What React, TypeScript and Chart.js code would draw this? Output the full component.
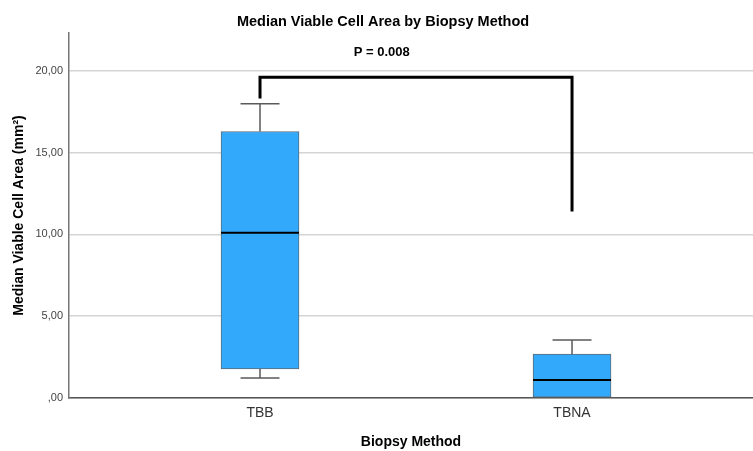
import React, { useEffect, useRef } from "react";
import { Chart, registerables } from "chart.js";

Chart.register(...registerables);

const categories = ["TBB", "TBNA"];
const categoryPositions = [1, 2];
const whiskerLow = [1.22, 0];
const q1 = [1.77, 0];
const median = [10.1, 1.1];
const q3 = [16.28, 2.68];
const whiskerHigh = [17.98, 3.54];

const bracketX = [1, 1, 2, 2];
const bracketY = [18.3, 19.6, 19.6, 11.4];
const pLabel = "P = 0.008";
const pLabelX = 1.39;
const pLabelY = 21.1;

const yTicks = [0, 5, 10, 15, 20];

const FONT = "'Liberation Sans', Arial, sans-serif";

const boxPlugin = {
  id: "boxExtras",
  afterDatasetsDraw(chart: any) {
    const ctx = chart.ctx;
    const xs = chart.scales.x;
    const ys = chart.scales.y;
    const meta = chart.getDatasetMeta(0);
    ctx.save();
    categoryPositions.forEach((pos, i) => {
      const cx = xs.getPixelForValue(pos);
      const bar = meta.data[i];
      const half = bar ? bar.width / 2 : 39;
      const capHalf = half / 2;
      ctx.strokeStyle = "#5a5a5a";
      ctx.lineWidth = 1.5;
      if (whiskerHigh[i] > q3[i]) {
        const yTop = ys.getPixelForValue(whiskerHigh[i]);
        const yQ3 = ys.getPixelForValue(q3[i]);
        ctx.beginPath();
        ctx.moveTo(cx, yQ3);
        ctx.lineTo(cx, yTop);
        ctx.moveTo(cx - capHalf, yTop);
        ctx.lineTo(cx + capHalf, yTop);
        ctx.stroke();
      }
      if (whiskerLow[i] < q1[i]) {
        const yBot = ys.getPixelForValue(whiskerLow[i]);
        const yQ1 = ys.getPixelForValue(q1[i]);
        ctx.beginPath();
        ctx.moveTo(cx, yQ1);
        ctx.lineTo(cx, yBot);
        ctx.moveTo(cx - capHalf, yBot);
        ctx.lineTo(cx + capHalf, yBot);
        ctx.stroke();
      }
      const yMed = ys.getPixelForValue(median[i]);
      ctx.strokeStyle = "#000";
      ctx.lineWidth = 2;
      ctx.beginPath();
      ctx.moveTo(cx - half, yMed);
      ctx.lineTo(cx + half, yMed);
      ctx.stroke();
    });
    ctx.fillStyle = "#000";
    ctx.font = `bold 13px ${FONT}`;
    ctx.textAlign = "center";
    ctx.textBaseline = "middle";
    ctx.fillText(pLabel, xs.getPixelForValue(pLabelX), ys.getPixelForValue(pLabelY));
    ctx.restore();
  },
};

export default function App() {
  const canvasRef = useRef<HTMLCanvasElement | null>(null);

  useEffect(() => {
    if (!canvasRef.current) return;
    const chart = new Chart(canvasRef.current, {
      type: "bar",
      data: {
        datasets: [
          {
            type: "bar",
            data: categoryPositions.map((x, i) => ({ x, y: [q1[i], q3[i]] })) as any,
            backgroundColor: "#33a9fc",
            borderColor: "#5f6b75",
            borderWidth: 1,
            borderSkipped: false,
            barThickness: 78,
          } as any,
          {
            type: "line",
            data: bracketX.map((x, i) => ({ x, y: bracketY[i] })) as any,
            borderColor: "#000",
            borderWidth: 3,
            pointRadius: 0,
            fill: false,
            tension: 0,
            borderJoinStyle: "miter",
          } as any,
        ],
      },
      options: {
        animation: false,
        responsive: false,
        devicePixelRatio: 1,
        layout: { padding: { left: 0, right: -13, top: 0, bottom: 0 } },
        plugins: {
          legend: { display: false },
          tooltip: { enabled: false },
          title: {
            display: true,
            text: "Median Viable Cell Area by Biopsy Method",
            color: "#000",
            font: { family: FONT, size: 14.5, weight: "bold" },
            padding: { top: 13, bottom: 2.6 },
          },
        },
        scales: {
          x: {
            type: "linear",
            min: 0.3878,
            max: 2.58,
            offset: false,
            grid: { display: false, drawTicks: false },
            border: { display: true, color: "#555", width: 1.5 },
            afterBuildTicks: (scale: any) => {
              scale.ticks = categoryPositions.map((v) => ({ value: v }));
            },
            afterFit: (scale: any) => {
              scale.height = 53;
            },
            ticks: {
              autoSkip: false,
              maxRotation: 0,
              padding: 7,
              color: "#333",
              font: { family: FONT, size: 14 },
              callback: (v: any) => categories[categoryPositions.indexOf(Number(v))] ?? "",
            },
            title: {
              display: true,
              text: "Biopsy Method",
              color: "#000",
              font: { family: FONT, size: 14, weight: "bold" },
              padding: { top: 0, bottom: 0.6 },
            },
          },
          y: {
            type: "linear",
            min: 0,
            max: 22.3,
            grid: { color: "#d4d4d4", lineWidth: 1.5, drawTicks: false },
            border: { display: true, color: "#777", width: 1.5 },
            afterBuildTicks: (scale: any) => {
              scale.ticks = yTicks.map((v) => ({ value: v }));
            },
            afterFit: (scale: any) => {
              scale.width = 69;
            },
            ticks: {
              padding: 6,
              color: "#444",
              font: { family: FONT, size: 11 },
              callback: (v: any) => {
                const n = Number(v);
                return n === 0 ? ",00" : n.toFixed(2).replace(".", ",");
              },
            },
            title: {
              display: true,
              text: "Median Viable Cell Area (mm²)",
              color: "#000",
              font: { family: FONT, size: 14, weight: "bold" },
              padding: { top: 10.6, bottom: 0 },
            },
          },
        },
      } as any,
      plugins: [boxPlugin],
    });
    return () => chart.destroy();
  }, []);

  return (
    <div style={{ position: "absolute", left: 0, top: 0, width: 753, height: 451, background: "#fff" }}>
      <canvas ref={canvasRef} width={753} height={451} />
    </div>
  );
}
